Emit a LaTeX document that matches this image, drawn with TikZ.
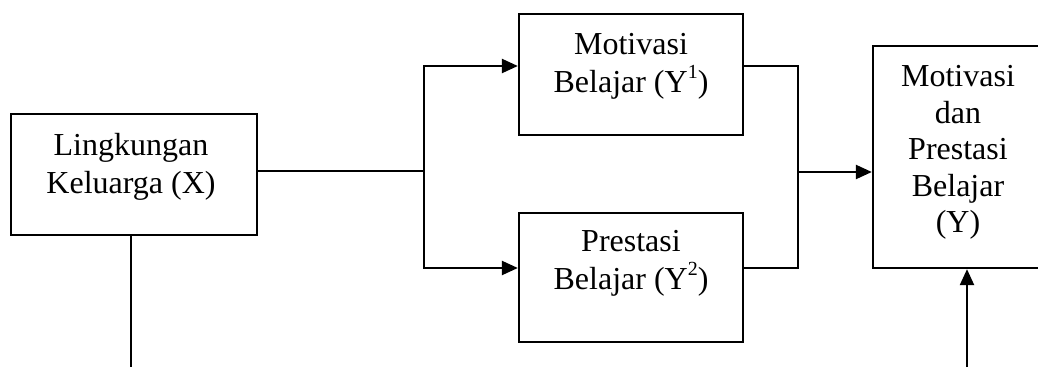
\documentclass[tikz,border=0pt]{standalone}
\usepackage{fontspec}
\setmainfont{Liberation Serif}
\usetikzlibrary{arrows.meta}
% raised index in the Y labels
\newcommand{\idx}[1]{\raisebox{14pt}{\fontsize{20}{20}\selectfont #1}}
\begin{document}
\begin{tikzpicture}[x=1pt,y=-1pt,
  line width=2.3pt,
  box/.style={draw, rectangle, inner sep=0pt},
  txt/.style={inner sep=0pt, anchor=north, align=center, font=\fontsize{32}{38}\selectfont},
  txttall/.style={txt, font=\fontsize{32}{36.5}\selectfont},
  arr/.style={-{Triangle[length=16pt,width=14pt]}}]
\clip (0,0) rectangle (1038,367);
\useasboundingbox (0,0) rectangle (1038,367);

% boxes
\node[box, minimum width=246pt, minimum height=121pt] (X)  at (134,174.5) {};
\node[box, minimum width=224pt, minimum height=121pt] (Y1) at (631,74.5)  {};
\node[box, minimum width=224pt, minimum height=129pt] (Y2) at (631,277.5) {};
\node[box, minimum width=170pt, minimum height=222pt] (Y)  at (958,157)   {};

% labels
\node[txt] (tX)  at (131,132.3) {Lingkungan\\Keluarga (X)};
\node[txt] (tY1) at (631,32.3)  {Motivasi\\Belajar (Y\idx{1})};
\node[txt] (tY2) at (631,229.3) {Prestasi\\Belajar (Y\idx{2})};
\node[txttall] (tY) at (958,64.3) {Motivasi\\dan\\Prestasi\\Belajar\\(Y)};

% routing points
\coordinate (s)  at (424,171);
\coordinate (r1) at (0,66);
\coordinate (r2) at (0,268);
\coordinate (j)  at (798,172);
\coordinate (b1) at (131,367);
\coordinate (b2) at (967,367);

% connectors
\draw (X.east |- s) -- (s);
\draw[arr] (s) |- (Y1.west |- r1);
\draw[arr] (s) |- (Y2.west |- r2);
\draw (Y1.east |- r1) -| (j);
\draw (Y2.east |- r2) -| (j);
\draw[arr] (j) -- (Y.west |- j);
\draw (X.south -| b1) -- (b1);
\draw[arr] (b2) -- (Y.south -| b2);
\end{tikzpicture}
\end{document}
